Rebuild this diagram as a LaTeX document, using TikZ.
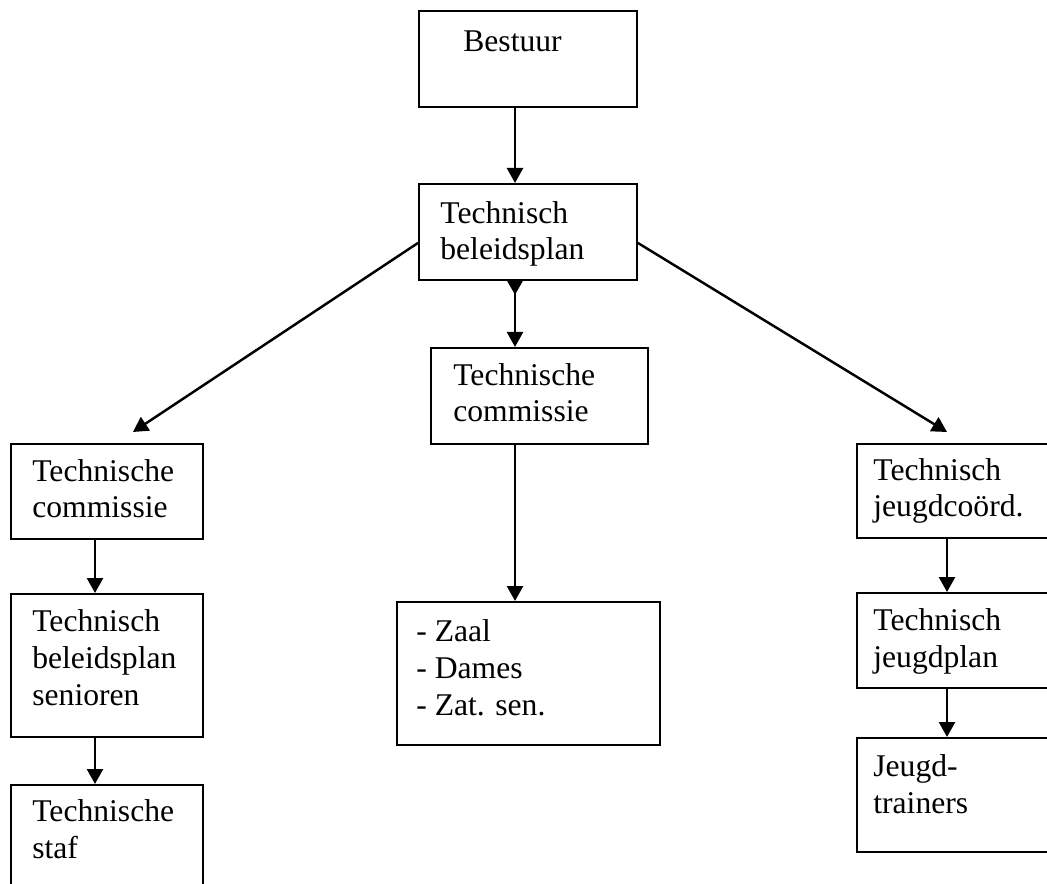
\documentclass[tikz,border=0pt]{standalone}
\usepackage{fontspec}
\setmainfont{Liberation Serif}
\usetikzlibrary{arrows.meta,calc}

\tikzset{
  blok/.style={draw, line width=1.1pt, anchor=north west, inner sep=0pt},
  tekst/.style={anchor=base west, align=left, inner sep=0pt,
    font=\fontsize{18}{20.9}\selectfont},
  pijl/.style={-{Triangle[length=0.3cm,width=0.32cm]}, line width=1.4pt},
  dubbelpijl/.style={{Triangle[reversed,length=0.28cm,width=0.3cm]}-{Triangle[length=0.3cm,width=0.32cm]}, line width=1.4pt},
}

\begin{document}
\begin{tikzpicture}[x=0.02cm,y=-0.02cm]
  \clip (0,0) rectangle (1047,884);
  \fill[white] (0,0) rectangle (1047,884);

  % kolommen voor de pijlen
  \coordinate (colL) at (95,0);
  \coordinate (colM) at (515,0);
  \coordinate (colR) at (947,0);

  % midden
  \node[blok, minimum width=4.36cm, minimum height=1.92cm] (bst) at (418,10) {};
  \node[blok, minimum width=4.36cm, minimum height=1.92cm] (tbp) at (418,183) {};
  \node[blok, minimum width=4.34cm, minimum height=1.92cm] (tcm) at (430,347) {};
  \node[blok, minimum width=5.26cm, minimum height=2.86cm] (zaal) at (396,601) {};

  \node[tekst] (bstt) at (463,52) {Bestuur};
  \node[tekst] (tbpt) at (440,260) {Technisch\\beleidsplan};
  \node[tekst] (tcmt) at (453,422) {Technische\\commissie};
  \node[tekst] (zaalt) at (416,715) {- Zaal\\- Dames\\- Zat. sen.};

  % links
  \node[blok, minimum width=3.84cm, minimum height=1.90cm] (tcl) at (10,443) {};
  \node[blok, minimum width=3.84cm, minimum height=2.86cm] (bps) at (10,593) {};
  \node[blok, minimum width=3.84cm, minimum height=3.00cm] (staf) at (10,784) {};

  \node[tekst] (tclt) at (32,518) {Technische\\commissie};
  \node[tekst] (bpst) at (32,705) {Technisch\\beleidsplan\\senioren};
  \node[tekst] (staft) at (32,858) {Technische\\staf};

  % rechts
  \node[blok, minimum width=4.40cm, minimum height=1.88cm] (jco) at (856,443) {};
  \node[blok, minimum width=4.40cm, minimum height=1.90cm] (jpl) at (856,592) {};
  \node[blok, minimum width=4.40cm, minimum height=2.28cm] (jtr) at (856,737) {};

  \node[tekst] (jcot) at (873,517) {Technisch\\jeugdcoörd.};
  \node[tekst] (jplt) at (873,667) {Technisch\\jeugdplan};
  \node[tekst] (jtrt) at (873,813) {Jeugd-\\trainers};

  % pijlen
  \draw[pijl] (colM |- bst.south) -- (colM |- tbp.north);
  \draw[dubbelpijl] (colM |- tbp.south) -- (colM |- tcm.north);
  \draw[pijl] (colM |- tcm.south) -- (colM |- zaal.north);
  \draw[pijl] ($(tbp.west)+(0,11)$) -- ($(tcl.north)+(26,-11)$);
  \draw[pijl] ($(tbp.east)+(0,11)$) -- ($(colR |- jco.north)+(0,-11)$);
  \draw[pijl] (colL |- tcl.south) -- (colL |- bps.north);
  \draw[pijl] (colL |- bps.south) -- (colL |- staf.north);
  \draw[pijl] (colR |- jco.south) -- (colR |- jpl.north);
  \draw[pijl] (colR |- jpl.south) -- (colR |- jtr.north);
\end{tikzpicture}
\end{document}
